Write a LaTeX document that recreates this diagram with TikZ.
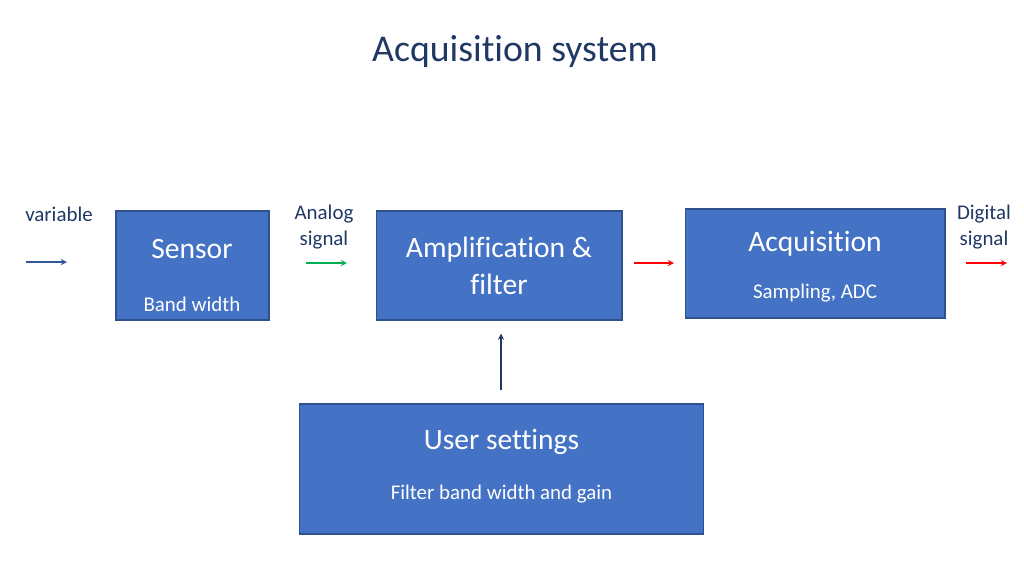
\documentclass[tikz,border=0pt]{standalone}
\usepackage{fontspec}
\setmainfont[Ligatures=NoCommon]{Carlito}
\usepackage{xcolor}
\usetikzlibrary{arrows}
\definecolor{boxblue}{HTML}{4472C4}
\definecolor{boxedge}{HTML}{2F528F}
\definecolor{navy}{HTML}{1F3864}
\definecolor{sigblue}{HTML}{2F5597}
\definecolor{siggreen}{HTML}{00B050}
\definecolor{sigred}{HTML}{FF0000}
\tikzstyle{block} = [rectangle, minimum height=2.18cm, draw=boxedge, line width=0.6pt, fill=boxblue, inner sep=0pt]
\tikzstyle{head} = [text=white, font=\fontsize{16.8}{20}\selectfont, align=center, inner sep=0pt]
\tikzstyle{sub} = [text=white, font=\fontsize{11.9}{14}\selectfont, inner sep=0pt]
\tikzstyle{label} = [text=navy, font=\fontsize{11.9}{14.5}\selectfont, align=center, inner sep=0pt]
\tikzstyle{arrow} = [line width=0.6pt,->,>=stealth]

\begin{document}
\begin{tikzpicture}[x=0.02cm, y=-0.02cm]
    \useasboundingbox (0,0) rectangle (1024,576);
    \node (title) [text=navy, font=\fontsize{21.5}{26}\selectfont] at (515,52) {Acquisition system};

    % blocks
    \node (sensor) [block, minimum width=3.06cm] at (192.5,265.5) {};
    \node (amp) [block, minimum width=4.92cm] at (499,265.5) {};
    \node (acq) [block, minimum width=5.2cm] at (815,263.5) {};
    \node (user) [block, minimum width=8.1cm, minimum height=2.6cm] at (501.5,469) {};

    \node (sensorhead) [head] at (192,249) {Sensor};
    \node (sensorsub) [sub] at (192,304) {Band width};
    \node (amphead) [head] at (499,266) {Amplification \&\\[1pt] filter};
    \node (acqhead) [head] at (815,244) {Acquisition};
    \node (acqsub) [sub] at (815,293) {Sampling, ADC};
    \node (userhead) [head] at (501.5,442) {User settings};
    \node (usersub) [sub] at (501.5,494) {Filter band width and gain};

    % signals
    \node (varlabel) [label] at (59,214) {variable};
    \node (analoglabel) [label] at (324,227) {Analog\\signal};
    \node (digitallabel) [label] at (984,227) {Digital\\signal};

    \coordinate (varstart) at (26,262);
    \coordinate (varend) at (67,262);
    \coordinate (anastart) at (306,263);
    \coordinate (anaend) at (347,263);
    \coordinate (ampout) at (634,263);
    \coordinate (acqin) at (674,263);
    \coordinate (digstart) at (966,263);
    \coordinate (digend) at (1007,263);

    \draw [arrow, sigblue] (varstart) -- (varend);
    \draw [arrow, siggreen] (anastart) -- (anaend);
    \draw [arrow, sigred] (ampout) -- (acqin);
    \draw [arrow, sigred] (digstart) -- (digend);
    \draw [arrow, navy, shorten <=7.4pt, shorten >=7.4pt] (user.north -| 501,0) -- (amp.south -| 501,0);
\end{tikzpicture}
\end{document}
